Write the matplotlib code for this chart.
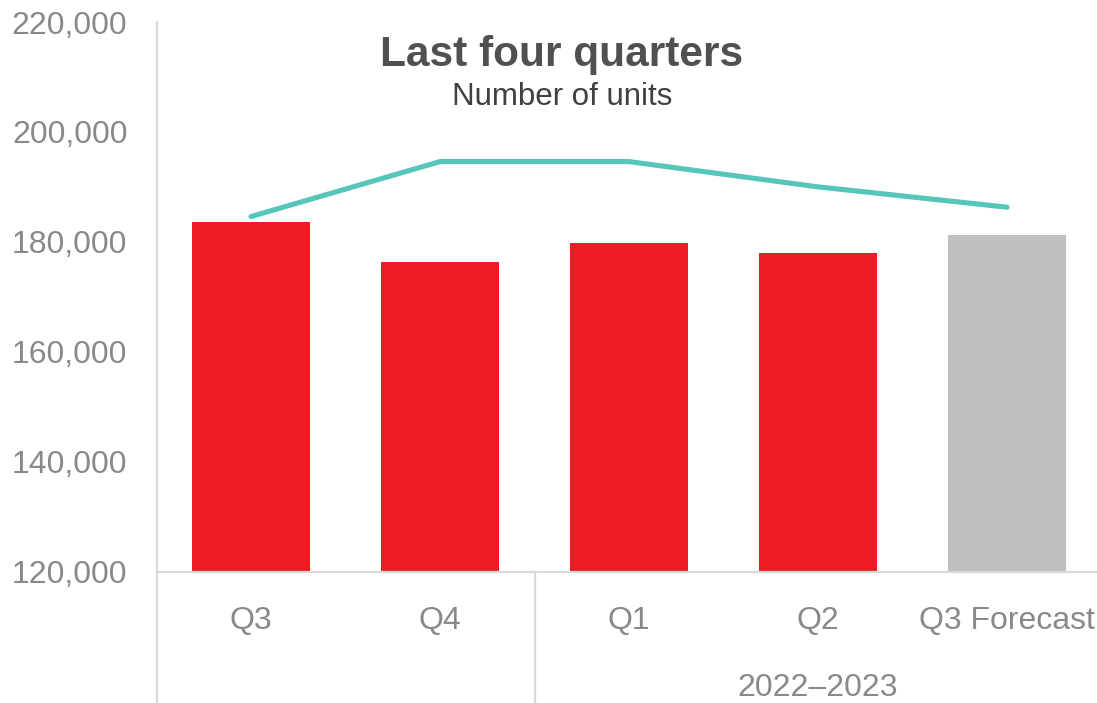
import matplotlib.pyplot as plt
import matplotlib.transforms as mtransforms
from matplotlib.ticker import FuncFormatter

plt.rcParams['font.family'] = ['Liberation Sans', 'DejaVu Sans']

# quarterly unit counts
quarters = ['Q3', 'Q4', 'Q1', 'Q2', 'Q3 Forecast']
units = [183600, 176300, 179700, 178000, 181200]
trend = [184600, 194600, 194600, 190000, 186300]
bar_colors = ['#ED1C24', '#ED1C24', '#ED1C24', '#ED1C24', '#BFBFBF']
year_label = '2022\u20132023'

grey_text = '#898989'
rule = '#D9D9D9'

fig = plt.figure(figsize=(10.97, 7.03), dpi=100)
ax = fig.add_axes([0.1427, 0.187, 0.8614, 0.7817])

x = range(len(quarters))
ax.bar(x, units, width=0.625, color=bar_colors, zorder=2)
ax.plot(x, trend, color='#56C5BA', linewidth=3.7, solid_capstyle='round', zorder=3)

ax.set_xlim(-0.5, len(quarters) - 0.5)
ax.set_ylim(120000, 220000)
ax.set_yticks(range(120000, 220001, 20000))
ax.yaxis.set_major_formatter(FuncFormatter(lambda v, p: f'{int(v):,}'))
ax.tick_params(axis='y', length=0, pad=21, labelsize=23, labelcolor=grey_text)
ax.set_xticks([])

for side in ['top', 'right', 'left']:
    ax.spines[side].set_visible(False)
ax.spines['bottom'].set_color(rule)
ax.spines['bottom'].set_linewidth(1.6)

# category labels and the two-level axis dividers
trans = mtransforms.blended_transform_factory(ax.transData, ax.transAxes)
for i, q in enumerate(quarters):
    ax.text(i, -0.1046, q, transform=trans, ha='center', va='baseline',
            fontsize=23, color=grey_text)
ax.text(3, -0.2266, year_label, transform=trans, ha='center', va='baseline',
        fontsize=23, color=grey_text)

ax.plot([-0.5, -0.5], [1.0, -0.25], transform=trans, color=rule,
        linewidth=1.6, clip_on=False)
ax.plot([1.5, 1.5], [0.0, -0.25], transform=trans, color=rule,
        linewidth=1.6, clip_on=False)

fig.text(0.5123, 0.9061, 'Last four quarters', ha='center', va='baseline',
         fontsize=30.5, fontweight='bold', color='#505050')
fig.text(0.5123, 0.8506, 'Number of units', ha='center', va='baseline',
         fontsize=22.5, color='#404040')

fig.savefig('out.png', dpi=100)
